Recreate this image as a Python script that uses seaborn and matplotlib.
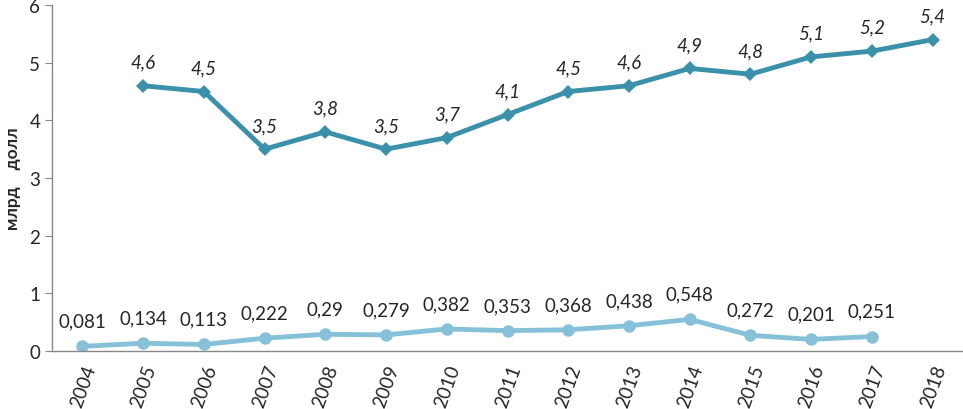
import numpy as np
import pandas as pd
import matplotlib
matplotlib.use("Agg")
import matplotlib.pyplot as plt
import seaborn as sns

# data
years = ["2004", "2005", "2006", "2007", "2008", "2009", "2010", "2011",
         "2012", "2013", "2014", "2015", "2016", "2017", "2018"]
upper = [np.nan, 4.6, 4.5, 3.5, 3.8, 3.5, 3.7, 4.1, 4.5, 4.6, 4.9, 4.8, 5.1, 5.2, 5.4]
lower = [0.081, 0.134, 0.113, 0.222, 0.29, 0.279, 0.382, 0.353, 0.368, 0.438,
         0.548, 0.272, 0.201, 0.251, np.nan]
upper_labels = ["", "4,6", "4,5", "3,5", "3,8", "3,5", "3,7", "4,1", "4,5", "4,6",
                "4,9", "4,8", "5,1", "5,2", "5,4"]
lower_labels = ["0,081", "0,134", "0,113", "0,222", "0,29", "0,279", "0,382", "0,353",
                "0,368", "0,438", "0,548", "0,272", "0,201", "0,251", ""]

sns.set_style("white")
plt.rcParams['font.family'] = ['Lato', 'DejaVu Sans']

df = pd.DataFrame({"pos": np.arange(len(years)), "upper": upper, "lower": lower})

dark = "#3B91AA"
light = "#86C1D9"

fig = plt.figure(figsize=(9.63, 4.10), dpi=100)
ax = fig.add_axes([52 / 963, 58 / 410, 911 / 963, 346 / 410])

sns.lineplot(data=df, x="pos", y="lower", ax=ax, color=light, linewidth=3.5,
             marker="o", markersize=9, markeredgewidth=0)
sns.lineplot(data=df, x="pos", y="upper", ax=ax, color=dark, linewidth=3.5,
             marker="D", markersize=7, markeredgewidth=0)

for i, (v, t) in enumerate(zip(upper, upper_labels)):
    if t:
        ax.annotate(t, (i, v), xytext=(0, 11), textcoords="offset points",
                    ha="center", va="bottom", fontsize=13.5, style="italic")
for i, (v, t) in enumerate(zip(lower, lower_labels)):
    if t:
        ax.annotate(t, (i, v), xytext=(0, 12), textcoords="offset points",
                    ha="center", va="bottom", fontsize=13.5)

ax.set_xlim(-0.5, len(years) - 0.5)
ax.set_ylim(0, 6)
ax.set_yticks(range(0, 7))
ax.set_xticks(np.arange(len(years)))
ax.set_xticklabels(years, rotation=70, fontsize=13.5, ha="right", rotation_mode="anchor")
ax.set_xticks(np.arange(-0.5, len(years)), minor=True)
ax.tick_params(axis="x", which="major", length=0, pad=8)
ax.tick_params(axis="x", which="minor", length=5, color="#888888", direction="out")
ax.tick_params(axis="y", labelsize=13.5, length=5, color="#888888", direction="out", left=True)
ax.set_xlabel("")
ax.set_ylabel("млрд    долл", fontsize=12.5, fontweight="bold")
ax.yaxis.set_label_coords(-0.034, 0.5)

for s in ["top", "right"]:
    ax.spines[s].set_visible(False)
for s in ["left", "bottom"]:
    ax.spines[s].set_color("#888888")
    ax.spines[s].set_linewidth(1)

fig.savefig("out.png", dpi=100)
